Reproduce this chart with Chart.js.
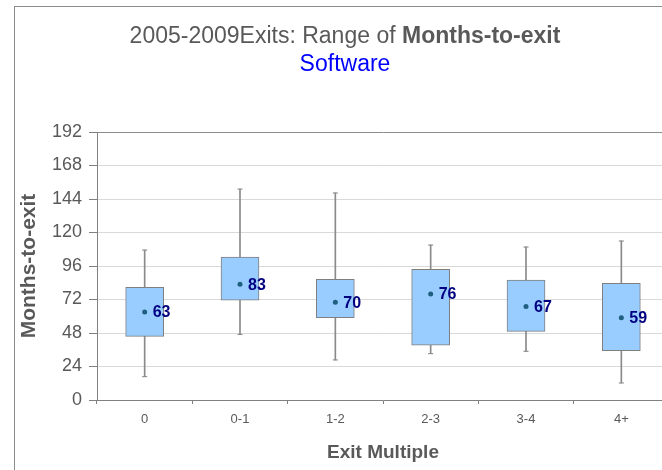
<!DOCTYPE html>
<html>
<head>
<meta charset="utf-8">
<script src="https://cdn.jsdelivr.net/npm/chart.js@4"></script>
<style>
  body { margin:0; overflow:hidden; background:#fff; width:662px; height:470px; }
  #frame { position:absolute; left:14px; top:6px; width:660px; height:480px; border:1px solid #8c8c8c; }
  #title { position:absolute; left:0; top:14px; width:660px; text-align:center; font-family:"Liberation Sans", Arial, sans-serif; font-size:23px; line-height:28px; color:#595959; }
  #title .sub { color:#0000ff; }
  #chart { position:absolute; left:0; top:0; }
</style>
</head>
<body>
<div id="frame">
  <canvas id="chart" width="660" height="470"></canvas>
  <div id="title">2005-2009Exits: Range of <b>Months-to-exit</b><br><span class="sub">Software</span></div>
</div>
<script>
// values (months)
const categories = ['0', '0-1', '1-2', '2-3', '3-4', '4+']
const lowWhisker = [16.7, 47, 28.7, 33.2, 34.9, 12.2]
const q1 = [45.6, 71.6, 59, 39.2, 49.2, 35.3]
const q3 = [80.7, 102.4, 86.4, 93.6, 86, 83.6]
const highWhisker = [107.4, 151.1, 148.3, 111, 109.6, 113.9]
const means = [63, 83, 70, 76, 67, 59]
const yTicks = [0, 24, 48, 72, 96, 120, 144, 168, 192]

const grey = '#595959'
const fontFam = '"Liberation Sans", Arial, sans-serif'

// number next to each mean dot
const meanLabels = {
  id: 'meanLabels',
  afterDatasetsDraw(chart){
    const meta = chart.getDatasetMeta(0)
    const ctx = chart.ctx
    ctx.save()
    ctx.font = 'bold 16px ' + fontFam
    ctx.fillStyle = '#000080'
    ctx.textBaseline = 'middle'
    meta.data.forEach((pt, i) => {
      ctx.fillText(String(means[i]), pt.x + 8, pt.y + 1)
    })
    ctx.restore()
  }
}

new Chart(document.getElementById('chart'), {
  data: {
    labels: categories,
    datasets: [
      {
        type: 'line',
        label: 'mean',
        data: means,
        showLine: false,
        pointRadius: 2.5,
        pointBackgroundColor: '#1f5f7f',
        pointBorderWidth: 0,
        order: 0
      },
      {
        type: 'bar',
        label: 'box',
        data: categories.map((c, i) => [q1[i], q3[i]]),
        backgroundColor: '#99ccff',
        borderColor: '#7f7f7f',
        borderWidth: 1,
        borderSkipped: false,
        barThickness: 38,
        grouped: false,
        order: 1
      },
      {
        type: 'bar',
        label: 'whisker',
        data: categories.map((c, i) => [lowWhisker[i], highWhisker[i]]),
        backgroundColor: '#8a8a8a',
        barThickness: 1,
        grouped: false,
        order: 2
      },
      {
        type: 'line',
        label: 'high',
        data: highWhisker,
        showLine: false,
        pointStyle: 'line',
        pointRadius: 2.5,
        pointBorderWidth: 1,
        pointBorderColor: '#7f7f7f',
        order: 2
      },
      {
        type: 'line',
        label: 'low',
        data: lowWhisker,
        showLine: false,
        pointStyle: 'line',
        pointRadius: 2.5,
        pointBorderWidth: 1,
        pointBorderColor: '#7f7f7f',
        order: 2
      }
    ]
  },
  options: {
    responsive: false,
    animation: false,
    layout: { padding: { top: 125, right: 6, bottom: 9, left: 0 } },
    plugins: { legend: { display: false }, tooltip: { enabled: false } },
    scales: {
      x: {
        offset: true,
        grid: { offset: true, drawOnChartArea: false, tickLength: 4, tickColor: '#808080' },
        border: { color: '#808080' },
        ticks: { color: grey, font: { family: fontFam, size: 13 }, padding: 8 },
        title: { display: true, text: 'Exit Multiple', color: grey, font: { family: fontFam, size: 19, weight: 'bold' }, padding: { top: 4, bottom: 4 } },
        afterFit(scale){ scale.height = 68 }
      },
      y: {
        min: 0,
        max: 192,
        afterBuildTicks(scale){ scale.ticks = yTicks.map(v => ({ value: v })) },
        grid: {
          color: ctx => ctx.tick && ctx.tick.value === 192 ? '#8c8c8c' : '#d9d9d9',
          tickColor: '#808080',
          tickLength: 8
        },
        border: { color: '#808080' },
        ticks: { color: grey, font: { family: fontFam, size: 18 }, padding: 7 },
        title: { display: true, text: 'Months-to-exit', color: grey, font: { family: fontFam, size: 21, weight: 'bold' }, padding: { top: 2, bottom: 2 } },
        afterFit(scale){ scale.width = 82 }
      }
    }
  },
  plugins: [meanLabels]
})
</script>
</body>
</html>
